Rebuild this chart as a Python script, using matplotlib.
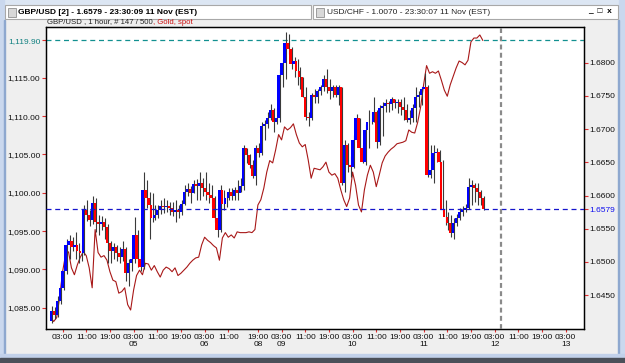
import numpy as np
import matplotlib.pyplot as plt
from matplotlib.patches import Rectangle
from matplotlib.ticker import FuncFormatter

plt.rcParams["font.family"] = ["Liberation Sans", "DejaVu Sans"]

# GBP/USD hourly candles (right axis), open of bar 0 then closes / highs / lows
first_open = 1.6411
gbp_close = [
    1.6426, 1.6420, 1.6441, 1.6461, 1.6487, 1.6525, 1.6532, 1.6522, 1.6525, 1.6517,
    1.6514, 1.6578, 1.6570, 1.6563, 1.6588, 1.6560, 1.6557, 1.6560, 1.6552, 1.6529,
    1.6517, 1.6523, 1.6514, 1.6508, 1.6519, 1.6484, 1.6498, 1.6505, 1.6541, 1.6505,
    1.6493, 1.6608, 1.6597, 1.6585, 1.6566, 1.6570, 1.6578, 1.6584, 1.6582, 1.6584,
    1.6581, 1.6575, 1.6578, 1.6575, 1.6587, 1.6605, 1.6610, 1.6604, 1.6617, 1.6614,
    1.6619, 1.6611, 1.6605, 1.6601, 1.6597, 1.6566, 1.6548, 1.6608, 1.6587, 1.6596,
    1.6605, 1.6599, 1.6608, 1.6604, 1.6614, 1.6672, 1.6661, 1.6646, 1.6629, 1.6672,
    1.6664, 1.6705, 1.6708, 1.6717, 1.6729, 1.6711, 1.6717, 1.6782, 1.6799, 1.6829,
    1.6820, 1.6798, 1.6802, 1.6787, 1.6778, 1.6749, 1.6719, 1.6717, 1.6752, 1.6748,
    1.6757, 1.6763, 1.6775, 1.6764, 1.6757, 1.6763, 1.6752, 1.6763, 1.6619, 1.6676,
    1.6646, 1.6643, 1.6684, 1.6717, 1.6672, 1.6651, 1.6699, 1.6711, 1.6710, 1.6726,
    1.6681, 1.6732, 1.6735, 1.6740, 1.6738, 1.6745, 1.6740, 1.6741, 1.6734, 1.6729,
    1.6714, 1.6717, 1.6732, 1.6748, 1.6751, 1.6760, 1.6763, 1.6631, 1.6638, 1.6664,
    1.6666, 1.6651, 1.6578, 1.6567, 1.6558, 1.6543, 1.6558, 1.6566, 1.6575, 1.6578,
    1.6581, 1.6613, 1.6616, 1.6611, 1.6605, 1.6596, 1.6579]
gbp_high = [
    1.6434, 1.6432, 1.6448, 1.6469, 1.6496, 1.6535, 1.6541, 1.6538, 1.6545, 1.6528,
    1.6525, 1.6585, 1.6593, 1.6578, 1.6599, 1.6596, 1.6570, 1.6569, 1.6566, 1.6557,
    1.6532, 1.6529, 1.6526, 1.6523, 1.6532, 1.6523, 1.6505, 1.6514, 1.6567, 1.6548,
    1.6510, 1.6635, 1.6623, 1.6605, 1.6604, 1.6585, 1.6585, 1.6593, 1.6596, 1.6593,
    1.6590, 1.6590, 1.6593, 1.6585, 1.6593, 1.6616, 1.6619, 1.6614, 1.6623, 1.6625,
    1.6635, 1.6626, 1.6635, 1.6619, 1.6616, 1.6600, 1.6581, 1.6616, 1.6608, 1.6605,
    1.6611, 1.6611, 1.6613, 1.6623, 1.6626, 1.6676, 1.6672, 1.6663, 1.6654, 1.6676,
    1.6679, 1.6711, 1.6714, 1.6726, 1.6738, 1.6732, 1.6732, 1.6790, 1.6805, 1.6846,
    1.6843, 1.6823, 1.6808, 1.6805, 1.6793, 1.6778, 1.6763, 1.6726, 1.6755, 1.6760,
    1.6760, 1.6767, 1.6781, 1.6790, 1.6775, 1.6767, 1.6767, 1.6767, 1.6763, 1.6684,
    1.6679, 1.6660, 1.6691, 1.6723, 1.6717, 1.6676, 1.6707, 1.6729, 1.6726, 1.6748,
    1.6729, 1.6737, 1.6741, 1.6746, 1.6743, 1.6748, 1.6746, 1.6746, 1.6745, 1.6749,
    1.6738, 1.6729, 1.6738, 1.6763, 1.6757, 1.6763, 1.6785, 1.6767, 1.6676, 1.6676,
    1.6672, 1.6669, 1.6654, 1.6593, 1.6575, 1.6570, 1.6566, 1.6572, 1.6581, 1.6584,
    1.6587, 1.6626, 1.6623, 1.6619, 1.6619, 1.6608, 1.6599]
gbp_low = [
    1.6408, 1.6414, 1.6417, 1.6437, 1.6457, 1.6482, 1.6505, 1.6517, 1.6505, 1.6499,
    1.6502, 1.6511, 1.6561, 1.6554, 1.6557, 1.6545, 1.6540, 1.6548, 1.6535, 1.6499,
    1.6499, 1.6505, 1.6502, 1.6499, 1.6502, 1.6472, 1.6464, 1.6487, 1.6499, 1.6493,
    1.6487, 1.6490, 1.6581, 1.6535, 1.6560, 1.6563, 1.6566, 1.6572, 1.6573, 1.6575,
    1.6570, 1.6569, 1.6560, 1.6566, 1.6570, 1.6585, 1.6599, 1.6588, 1.6604, 1.6593,
    1.6593, 1.6599, 1.6593, 1.6588, 1.6582, 1.6560, 1.6538, 1.6545, 1.6578, 1.6582,
    1.6593, 1.6593, 1.6593, 1.6593, 1.6605, 1.6608, 1.6649, 1.6641, 1.6626, 1.6616,
    1.6658, 1.6661, 1.6684, 1.6702, 1.6714, 1.6695, 1.6707, 1.6711, 1.6763, 1.6775,
    1.6813, 1.6790, 1.6778, 1.6767, 1.6760, 1.6748, 1.6714, 1.6704, 1.6714, 1.6740,
    1.6740, 1.6752, 1.6757, 1.6755, 1.6745, 1.6748, 1.6748, 1.6737, 1.6616, 1.6605,
    1.6635, 1.6628, 1.6641, 1.6681, 1.6666, 1.6649, 1.6646, 1.6672, 1.6707, 1.6711,
    1.6672, 1.6676, 1.6690, 1.6726, 1.6726, 1.6729, 1.6732, 1.6725, 1.6722, 1.6714,
    1.6711, 1.6708, 1.6710, 1.6710, 1.6734, 1.6737, 1.6748, 1.6628, 1.6626, 1.6619,
    1.6650, 1.6648, 1.6575, 1.6555, 1.6548, 1.6538, 1.6535, 1.6554, 1.6563, 1.6569,
    1.6575, 1.6579, 1.6585, 1.6590, 1.6585, 1.6585, 1.6578]

# Gold spot (left axis)
gold = [
    1083.7, 1083.2, 1083.7, 1086.3, 1089.7, 1091.9, 1092.3, 1090.2, 1089.3, 1090.6,
    1091.6, 1092.3, 1091.8, 1090.2, 1087.6, 1095.2, 1092.2, 1091.6, 1091.8, 1091.2,
    1089.7, 1088.6, 1088.4, 1086.9, 1087.1, 1087.6, 1085.4, 1084.7, 1087.3, 1089.2,
    1089.9, 1089.3, 1090.8, 1090.7, 1089.9, 1090.5, 1089.7, 1089.0, 1089.9, 1090.3,
    1090.1, 1089.7, 1090.2, 1089.2, 1089.5, 1089.9, 1090.3, 1090.8, 1091.2, 1091.5,
    1091.6, 1093.2, 1094.2, 1093.8, 1093.5, 1093.1, 1092.8, 1091.2, 1094.1, 1094.8,
    1094.2, 1094.5, 1094.1, 1094.9, 1094.8, 1094.8, 1094.8, 1094.9, 1094.8, 1095.2,
    1098.4, 1099.1, 1100.6, 1102.7, 1104.2, 1103.9, 1105.6, 1107.6, 1106.9, 1108.6,
    1108.2, 1108.5, 1109.0, 1107.6, 1106.5, 1106.0, 1106.3, 1104.3, 1101.9, 1103.2,
    1103.1, 1103.0, 1103.4, 1104.0, 1102.7, 1102.3, 1102.5, 1101.9, 1100.4, 1099.1,
    1098.2, 1099.3, 1102.7, 1101.0, 1098.4, 1097.5, 1100.4, 1102.3, 1103.6, 1102.7,
    1100.8, 1102.3, 1103.9, 1104.8, 1105.3, 1105.7, 1106.0, 1106.4, 1106.5, 1106.6,
    1106.8, 1108.2, 1107.9, 1107.8, 1109.2, 1111.2, 1114.1, 1116.6, 1115.6, 1115.8,
    1115.6, 1115.9, 1114.7, 1113.4, 1112.6, 1114.1, 1115.2, 1116.3, 1117.2, 1117.0,
    1116.7, 1117.3, 1119.7, 1120.2, 1120.2, 1120.6, 1119.9]

gold_last = 1119.90
gbp_last = 1.6579
now_bar = 152

tick_pos = [4, 12, 20, 28, 36, 44, 52, 60, 70, 78, 86, 94, 102, 110, 118, 126,
            134, 142, 150, 158, 166, 174]
tick_time = ["03:00", "11:00", "19:00"] * 2 + ["03:00", "11:00", "19:00"] + \
            ["03:00", "11:00", "19:00"] * 4 + ["03:00"]
day_pos = [28, 52, 70, 78, 102, 126, 150, 174]
day_lab = ["05", "06", "08", "09", "10", "11", "12", "13"]

fig = plt.figure(figsize=(6.25, 3.63), dpi=100)
fig.patch.set_facecolor("#efefef")

# window chrome in pixel coordinates
bg = fig.add_axes([0, 0, 1, 1], zorder=-5)
bg.set_xlim(0, 625)
bg.set_ylim(363, 0)
bg.axis("off")
bg.add_patch(Rectangle((0, 0), 625, 4, color="#dce6f3"))
bg.add_patch(Rectangle((0, 0), 4, 363, color="#cad8ee"))
bg.add_patch(Rectangle((4, 20), 1.2, 338, color="#8ea8cf"))
bg.add_patch(Rectangle((619, 0), 6, 363, color="#cad8ee"))
bg.add_patch(Rectangle((617.5, 20), 1.2, 338, color="#8ea8cf"))
bg.add_patch(Rectangle((0, 354), 625, 4, color="#c2d1ea"))
bg.add_patch(Rectangle((0, 358), 625, 5, color="#4b5059"))
bg.add_patch(Rectangle((5, 5), 306, 14, fc="white", ec="#a8a8a8", lw=0.8))
bg.add_patch(Rectangle((313, 5), 305, 14, fc="white", ec="#a8a8a8", lw=0.8))
bg.add_patch(Rectangle((8, 7.5), 8, 9, fc="#d8d8d8", ec="#909090", lw=0.6))
bg.add_patch(Rectangle((316, 7.5), 8, 9, fc="#d8d8d8", ec="#909090", lw=0.6))
bg.text(18, 12.5, "GBP/USD [2] - 1.6579 - 23:30:09 11 Nov (EST)", fontsize=6,
        weight="bold", va="center", ha="left")
bg.text(327, 12.5, "USD/CHF - 1.0070 - 23:30:07 11 Nov (EST)", fontsize=6,
        va="center", ha="left", color="#222222")
bg.text(612, 12, "_  \u25a1  x", fontsize=6, va="center", ha="right", weight="bold")
head = bg.text(47, 22, "GBP/USD , 1 hour, # 147 / 500", fontsize=5.6,
               va="center", ha="left", color="#222222")
bg.annotate(", Gold, spot", xy=(1, 0.5), xycoords=head, fontsize=5.6,
            va="center", ha="left", color="#cc1010")

ax = fig.add_axes([46 / 625, 34 / 363, 538 / 625, 302 / 363])
ax.set_facecolor("white")
ax.set_xlim(-1.6, 180.2)
ax.set_ylim(1082.22, 1121.64)
ax2 = ax.twinx()
ax2.set_ylim(1.6399, 1.68538)

idx = np.arange(len(gbp_close))
gbp_open = np.array([first_open] + gbp_close[:-1])
c = np.array(gbp_close)
up = c >= gbp_open
colors = np.where(up, "#0000ff", "#ff0000")

ax.plot(idx, gold, color="#a81818", lw=0.8, zorder=2)

ax2.vlines(idx + 0.4, gbp_low, gbp_high, color="#3a3a3a", lw=0.8, zorder=2)
ax2.bar(idx, np.abs(c - gbp_open), bottom=np.minimum(c, gbp_open), width=0.75,
        color=colors, linewidth=0, zorder=3)

ax.axhline(gold_last, color="#129090", lw=0.9, ls=(0, (4, 3)), zorder=4)
ax2.axhline(gbp_last, color="#1515cc", lw=0.9, ls=(0, (4, 3)), zorder=4)
ax2.axvline(now_bar, color="#8a8a8a", lw=1.6, ls=(0, (2.2, 1.5)), zorder=4)

# left axis: gold
ax.set_yticks([1085, 1090, 1095, 1100, 1105, 1110, 1115, gold_last])
ax.yaxis.set_major_formatter(FuncFormatter(lambda v, p: f"{v:,.2f}"))
ax.tick_params(axis="y", color="#e03030", length=3, width=0.8, pad=1,
               labelsize=6, labelcolor="#111111")
ax.yaxis.get_major_ticks()[-1].label1.set_color("#108080")

# right axis: GBP/USD
ax2.set_yticks([1.645, 1.650, 1.655, 1.660, 1.665, 1.670, 1.675, 1.680, gbp_last])
ax2.yaxis.set_major_formatter(FuncFormatter(lambda v, p: f"{v:.4f}"))
ax2.tick_params(axis="y", color="#e03030", length=3, width=0.8, pad=1,
                labelsize=6, labelcolor="#111111")
ax2.yaxis.get_major_ticks()[-1].label2.set_color("#1010ee")

ax.set_xticks(tick_pos)
ax.set_xticklabels(tick_time)
ax.tick_params(axis="x", color="#e03030", length=2, width=0.8, pad=1.5,
               labelsize=6, labelcolor="#111111")
for d, lab in zip(day_pos, day_lab):
    ax.annotate(lab, (d, 0), xycoords=("data", "axes fraction"),
                xytext=(0, -11.5), textcoords="offset points",
                ha="center", va="center", fontsize=6, color="#111111")

for a in (ax, ax2):
    for s in a.spines.values():
        s.set_color("black")
        s.set_linewidth(0.9)

fig.savefig("out.png", dpi=100, facecolor=fig.get_facecolor())
